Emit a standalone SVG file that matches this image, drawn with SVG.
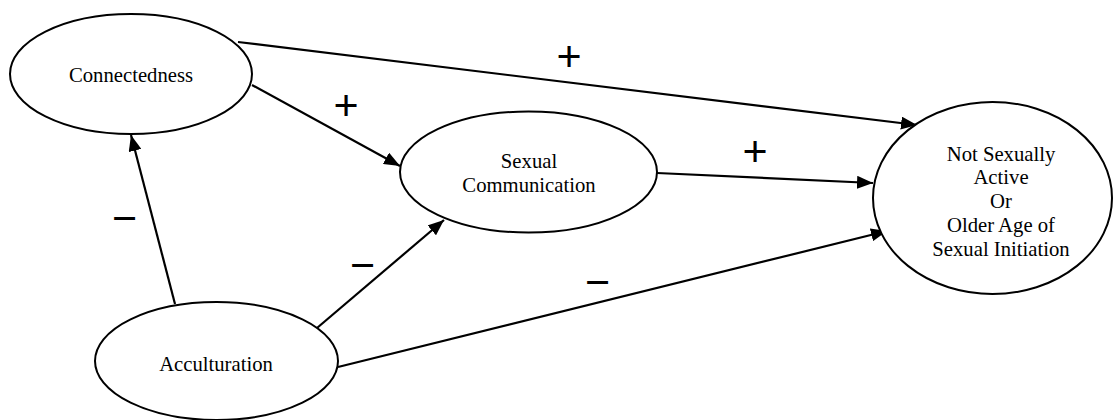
<svg xmlns="http://www.w3.org/2000/svg" width="1115" height="420" viewBox="0 0 1115 420">
  <style>
    .node ellipse { fill: #ffffff; stroke: #000000; stroke-width: 2; }
    .lbl { font-family: 'Liberation Serif', 'DejaVu Serif', serif; font-size: 20.7px; fill: #000000; text-anchor: middle; }
    .edge { stroke: #000000; stroke-width: 2.2; fill: none; marker-end: url(#arrow); }
    .sign { font-family: 'Liberation Sans', sans-serif; font-size: 43px; fill: #000000; text-anchor: middle; }
  </style>
  <defs>
    <marker id="arrow" markerUnits="userSpaceOnUse" markerWidth="17" markerHeight="13" refX="16" refY="6.5" orient="auto">
      <path d="M0,0 L16,6.5 L0,13 Z" fill="#000000"/>
    </marker>
  </defs>
  <rect x="0" y="0" width="1115" height="420" fill="#ffffff"/>

  <g id="connectors">
    <line class="edge" x1="238" y1="42" x2="917" y2="125"/>
    <line class="edge" x1="252" y1="85" x2="400" y2="166"/>
    <line class="edge" x1="657" y1="173" x2="873" y2="183"/>
    <line class="edge" x1="175" y1="304" x2="131" y2="135"/>
    <line class="edge" x1="317" y1="328" x2="444" y2="220"/>
    <line class="edge" x1="338" y1="367" x2="887" y2="231"/>
  </g>

  <g id="node-connectedness" class="node">
    <ellipse cx="131" cy="74" rx="121" ry="60"/>
    <text class="lbl" font-family="Liberation Serif, serif" x="131" y="82">Connectedness</text>
  </g>

  <g id="node-sexual-communication" class="node">
    <ellipse cx="528.5" cy="172" rx="128.5" ry="60.5"/>
    <text class="lbl" font-family="Liberation Serif, serif" x="529" y="168">Sexual</text>
    <text class="lbl" font-family="Liberation Serif, serif" x="529" y="192">Communication</text>
  </g>

  <g id="node-acculturation" class="node">
    <ellipse cx="216.5" cy="361" rx="121.5" ry="59"/>
    <text class="lbl" font-family="Liberation Serif, serif" x="216" y="371">Acculturation</text>
  </g>

  <g id="node-outcome" class="node">
    <ellipse cx="992.5" cy="198" rx="119.5" ry="96"/>
    <text class="lbl" font-family="Liberation Serif, serif" x="1001" y="160.5">Not Sexually</text>
    <text class="lbl" font-family="Liberation Serif, serif" x="1001" y="184.3">Active</text>
    <text class="lbl" font-family="Liberation Serif, serif" x="1001" y="208.1">Or</text>
    <text class="lbl" font-family="Liberation Serif, serif" x="1001" y="231.9">Older Age of</text>
    <text class="lbl" font-family="Liberation Serif, serif" x="1001" y="255.7">Sexual Initiation</text>
  </g>

  <g id="labels">
    <text class="sign" x="569" y="71">+</text>
    <text class="sign" x="346" y="120">+</text>
    <text class="sign" x="755" y="166">+</text>
    <text class="sign" x="124.5" y="233">−</text>
    <text class="sign" x="362.5" y="279.5">−</text>
    <text class="sign" x="597.5" y="297">−</text>
  </g>
</svg>
